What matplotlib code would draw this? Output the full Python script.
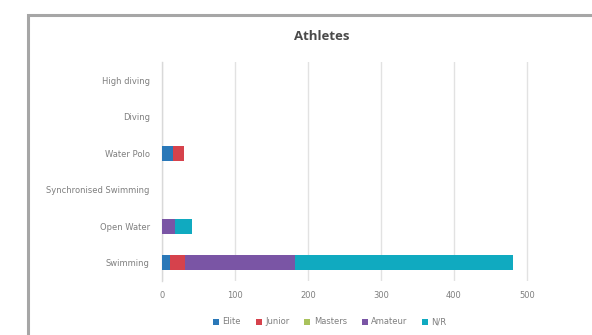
import matplotlib
matplotlib.use("Agg")
import matplotlib.pyplot as plt
from matplotlib.patches import Rectangle
import numpy as np

categories = ["Swimming", "Open Water", "Synchronised Swimming", "Water Polo", "Diving", "High diving"]
series_names = ["Elite", "Junior", "Masters", "Amateur", "N/R"]
elite = [10, 0, 0, 15, 0, 0]
junior = [21, 0, 0, 15, 0, 0]
masters = [0, 0, 0, 0, 0, 0]
amateur = [151, 17, 0, 0, 0, 0]
nr = [299, 24, 0, 0, 0, 0]
colors = ["#2a78b8", "#d6424c", "#a9c25c", "#7a55a5", "#10aac0"]
x_ticks = [0, 100, 200, 300, 400, 500, 600]

W, H = 592, 335
fig = plt.figure(figsize=(W / 100, H / 100), dpi=100)
fig.patch.set_facecolor("white")

# outer chart frame (extends past right/bottom edge)
fig.patches.append(Rectangle((28 / W, -0.05), 1.2, 1 - 15 / H + 0.05,
                             transform=fig.transFigure, fill=False,
                             edgecolor="#a6a6a6", linewidth=2.2, zorder=0))

left_px, right_px, top_px, bottom_px = 162.3, 599.7, 62, 281
ax = fig.add_axes([left_px / W, 1 - bottom_px / H, (right_px - left_px) / W, (bottom_px - top_px) / H])
ax.set_facecolor("none")

y = np.arange(len(categories))
series = [elite, junior, masters, amateur, nr]
left = np.zeros(len(categories))
handles = []
for name, vals, c in zip(series_names, series, colors):
    v = np.array(vals, dtype=float)
    b = ax.barh(y, v, left=left, height=0.4, color=c, label=name, zorder=3)
    handles.append(b)
    left += v

ax.set_xlim(0, 600)
ax.set_ylim(-0.5, len(categories) - 0.5)
ax.set_xticks(x_ticks)
ax.set_xticklabels([str(t) for t in x_ticks], fontsize=6, color="#7f7f7f")
ax.set_yticks(y)
ax.set_yticklabels(categories, fontsize=6, color="#7f7f7f")
ax.tick_params(axis="x", length=0, pad=7)
ax.tick_params(axis="y", length=0, pad=9)
ax.xaxis.grid(True, color="#e2e2e2", linewidth=1, zorder=0)
ax.set_axisbelow(True)
for s in ["top", "right", "bottom"]:
    ax.spines[s].set_visible(False)
ax.spines["left"].set_color("#d9d9d9")
ax.spines["left"].set_linewidth(1)
ax.spines["left"].set_zorder(1)

fig.text(322 / W, 1 - 37 / H, "Athletes", ha="center", va="center",
         fontsize=9.5, fontweight="bold", color="#4a4a4a", family="Open Sans")

fig.legend(handles=handles, labels=series_names, loc="center",
           bbox_to_anchor=(330 / W, 1 - 322 / H), ncol=5, frameon=False,
           fontsize=6, handlelength=0.7, handleheight=0.7, handletextpad=0.4,
           columnspacing=1.8, labelcolor="#7f7f7f")

fig.savefig("out.png", dpi=100, facecolor="white")
